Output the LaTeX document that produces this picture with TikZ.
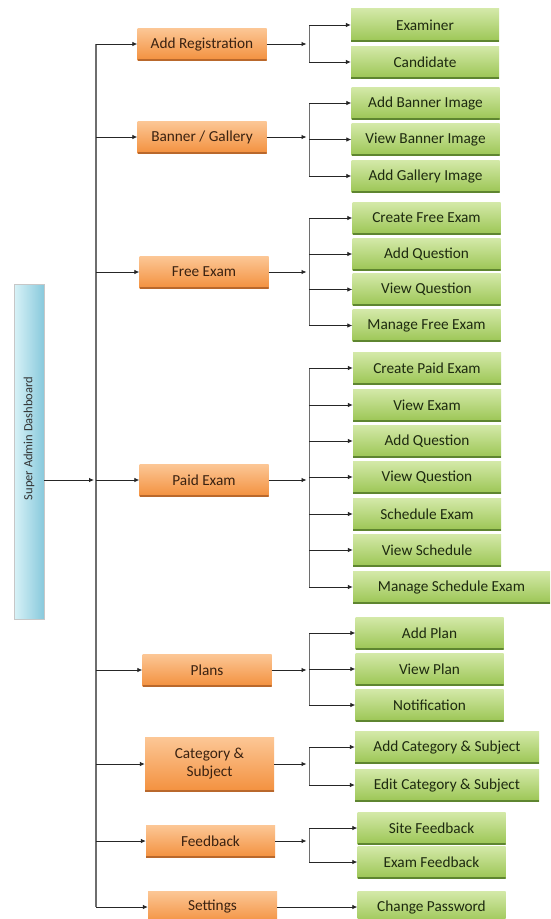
\documentclass[tikz,border=0pt]{standalone}
\usepackage{fontspec}
\setmainfont{Carlito}
\usetikzlibrary{arrows.meta}
\definecolor{otop}{HTML}{FCC796}
\definecolor{obot}{HTML}{F3913F}
\definecolor{oedge}{HTML}{B9682C}
\definecolor{otext}{HTML}{3A2211}
\definecolor{gtop}{HTML}{D4E9A9}
\definecolor{gbot}{HTML}{9CC655}
\definecolor{gedge}{HTML}{5E8530}
\definecolor{gtext}{HTML}{1E2A10}
\definecolor{btop}{HTML}{D8F2F7}
\definecolor{bbot}{HTML}{88C9DC}
\definecolor{linec}{HTML}{6E6E6E}
\begin{document}
\begin{tikzpicture}[x=1pt,y=-1pt,
  obox/.style={rectangle, minimum width=129pt, minimum height=32pt, inner sep=0pt,
    top color=otop, bottom color=obot, text=otext, align=center,
    font=\fontsize{15.3}{18}\selectfont,
    path picture={\draw[oedge, line width=2.4pt] (path picture bounding box.south west) -- (path picture bounding box.south east);}},
  gbox/.style={rectangle, minimum width=148pt, minimum height=32pt, inner sep=0pt,
    top color=gtop, bottom color=gbot, text=gtext, align=center,
    font=\fontsize{15.3}{18}\selectfont,
    path picture={\draw[gedge, line width=2.4pt] (path picture bounding box.south west) -- (path picture bounding box.south east);}},
  dbox/.style={rectangle, minimum width=30pt, minimum height=335pt, inner sep=0pt,
    left color=btop, right color=bbot, draw=black!22, line width=0.8pt, text=black!80,
    font=\fontsize{12.5}{15}\selectfont},
  arr/.style={draw=black!85, line width=0.8pt, -{Latex[length=5pt,width=4.5pt]}},
  trunk/.style={draw=linec, line width=1.2pt},
  brk/.style={draw=linec, line width=1pt}
]
\useasboundingbox (0,0) rectangle (550,919);
\fill[white] (0,0) rectangle (550,919);

% dashboard
\node[dbox] (dash) at (29,452) {\rotatebox{90}{\hspace{27pt}Super Admin Dashboard}};

% orange level
\node[obox] (reg) at (202,44) {Add Registration};
\node[obox] (ban) at (202,137) {Banner / Gallery};
\node[obox] (free) at (204,272) {Free Exam};
\node[obox] (paid) at (204,480) {Paid Exam};
\node[obox] (plans) at (207,670) {Plans};
\node[obox, minimum height=54pt] (cat) at (209.5,764) {Category \&\\Subject};
\node[obox] (fb) at (210.5,841) {Feedback};
\node[obox] (set) at (212.5,907) {Settings};

% green level
\node[gbox, minimum height=33pt] (exr) at (425,25) {Examiner};
\node[gbox] (can) at (425,62) {Candidate};

\node[gbox] (abi) at (425.5,103) {Add Banner Image};
\node[gbox] (vbi) at (425.5,139.5) {View Banner Image};
\node[gbox] (agi) at (425.5,176) {Add Gallery Image};

\node[gbox] (cfe) at (426.5,218) {Create Free Exam};
\node[gbox] (aq1) at (426.5,254) {Add Question};
\node[gbox] (vq1) at (426.5,289.5) {View Question};
\node[gbox] (mfe) at (426.5,325.5) {Manage Free Exam};

\node[gbox] (cpe) at (427,368) {Create Paid Exam};
\node[gbox] (vex) at (427,405) {View Exam};
\node[gbox] (aq2) at (427,441) {Add Question};
\node[gbox] (vq2) at (427,477) {View Question};
\node[gbox] (sex) at (427,514) {Schedule Exam};
\node[gbox] (vsc) at (427,550) {View Schedule};
\node[gbox, minimum width=197pt] (mse) at (451.5,587) {Manage Schedule Exam};

\node[gbox] (apl) at (429.5,633) {Add Plan};
\node[gbox] (vpl) at (429.5,669) {View Plan};
\node[gbox] (ntf) at (429.5,705) {Notification};

\node[gbox, minimum width=184pt] (acs) at (447,747) {Add Category \& Subject};
\node[gbox, minimum width=184pt] (ecs) at (447,785) {Edit Category \& Subject};

\node[gbox] (sfb) at (431.5,828) {Site Feedback};
\node[gbox] (efb) at (431.5,862) {Exam Feedback};

\node[gbox] (cpw) at (431.5,907) {Change Password};

% trunk
\coordinate (T) at (96,480);
\draw[trunk] (T |- reg) -- (T |- set);
\draw[arr, shorten >=2pt] (dash.east |- T) -- (T);
\foreach \o in {reg,ban,free,paid,plans,cat,fb,set}{
  \draw[arr] (T |- \o) -- (\o.west);
}

% brackets
\coordinate (B) at (309,0);
\foreach \p/\first/\last/\kids in {
  reg/exr/can/{exr,can},
  ban/abi/agi/{abi,vbi,agi},
  free/cfe/mfe/{cfe,aq1,vq1,mfe},
  paid/cpe/mse/{cpe,vex,aq2,vq2,sex,vsc,mse},
  plans/apl/ntf/{apl,vpl,ntf},
  cat/acs/ecs/{acs,ecs},
  fb/sfb/efb/{sfb,efb}}{
  \draw[arr, shorten >=2.5pt] (\p.east) -- (B |- \p);
  \draw[brk] (B |- \first) -- (B |- \last);
  \foreach \k in \kids { \draw[arr] (B |- \k) -- (\k.west); }
}
\draw[arr] (set.east) -- (cpw.west);
\end{tikzpicture}
\end{document}
